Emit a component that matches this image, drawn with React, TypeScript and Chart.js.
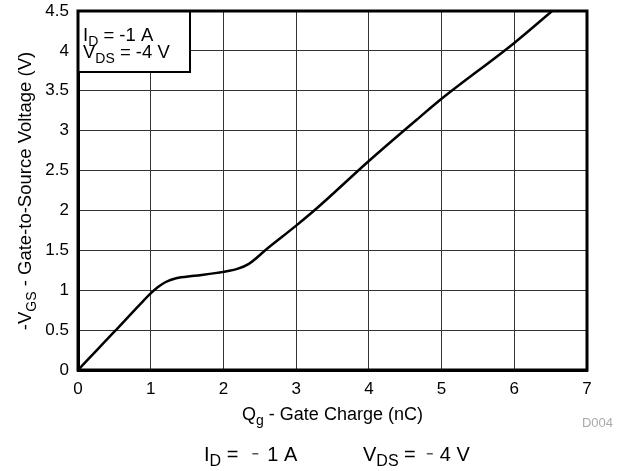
import React, { useEffect, useRef } from "react";
import { Chart, registerables } from "chart.js";
Chart.register(...registerables);

const qg = [0, 0.25, 0.5, 0.85, 1.0, 1.1, 1.2, 1.35, 1.6, 2.0, 2.2, 2.35, 2.6, 3.0, 3.3, 4.0, 4.7, 5.0, 6.0, 6.52];
const vgs = [0, 0.24, 0.48, 0.82, 0.96, 1.04, 1.1, 1.15, 1.18, 1.23, 1.27, 1.33, 1.52, 1.81, 2.04, 2.62, 3.17, 3.4, 4.1, 4.5];
const xTicks = [0, 1, 2, 3, 4, 5, 6, 7];
const yTicks = [0, 0.5, 1, 1.5, 2, 2.5, 3, 3.5, 4, 4.5];

const FONT = "'Liberation Sans', Arial, Helvetica, sans-serif";

type Part = { t: string; sub?: boolean };

function richWidth(ctx: CanvasRenderingContext2D, parts: Part[], size: number) {
  let w = 0;
  for (const p of parts) {
    ctx.font = `${p.sub ? Math.round(size * 0.78) : size}px ${FONT}`;
    w += ctx.measureText(p.t).width;
  }
  return w;
}

function drawRich(ctx: CanvasRenderingContext2D, parts: Part[], x: number, y: number, size: number, align: string, color = "#000") {
  const w = richWidth(ctx, parts, size);
  let cx = align === "center" ? x - w / 2 : align === "right" ? x - w : x;
  ctx.fillStyle = color;
  ctx.textBaseline = "alphabetic";
  ctx.textAlign = "left";
  for (const p of parts) {
    ctx.font = `${p.sub ? Math.round(size * 0.78) : size}px ${FONT}`;
    ctx.fillText(p.t, cx, p.sub ? y + size * 0.25 : y);
    cx += ctx.measureText(p.t).width;
  }
  return cx;
}

function drawCaption(ctx: CanvasRenderingContext2D, sym: string, sub: string, val: string, x: number, gap1: number, gap2: number, y: number) {
  let cx = drawRich(ctx, [{ t: sym }, { t: sub, sub: true }, { t: " =" }], x, y, 20, "left");
  cx += gap1;
  ctx.fillStyle = "#555";
  ctx.fillRect(cx, y - 8, 6, 1.5);
  cx += 6 + gap2;
  drawRich(ctx, [{ t: val }], cx, y, 20, "left");
}

const annot = {
  id: "annot",
  afterDraw(chart: any) {
    const ctx: CanvasRenderingContext2D = chart.ctx;
    const a = chart.chartArea;
    ctx.save();
    // legend box
    ctx.fillStyle = "#fff";
    ctx.fillRect(a.left, a.top, 112, 61);
    ctx.strokeStyle = "#000";
    ctx.lineWidth = 2;
    ctx.strokeRect(a.left, a.top, 112, 61);
    drawRich(ctx, [{ t: "I" }, { t: "D", sub: true }, { t: " = -1 A" }], a.left + 5, a.top + 30, 18.5, "left");
    drawRich(ctx, [{ t: "V" }, { t: "DS", sub: true }, { t: " = -4 V" }], a.left + 5, a.top + 47, 18.5, "left");
    // plot border
    ctx.lineWidth = 3;
    ctx.strokeRect(a.left, a.top, a.right - a.left, a.bottom - a.top);
    // x title
    const cxm = (a.left + a.right) / 2;
    drawRich(ctx, [{ t: "Q" }, { t: "g", sub: true }, { t: " - Gate Charge (nC)" }], cxm, 420, 18, "center");
    // y title
    ctx.save();
    ctx.translate(31, 191);
    ctx.rotate(-Math.PI / 2);
    drawRich(ctx, [{ t: "-V" }, { t: "GS", sub: true }, { t: " - Gate-to-Source Voltage (V)" }], 0, 0, 18.5, "center");
    ctx.restore();
    // D004
    drawRich(ctx, [{ t: "D004" }], 613, 427, 13, "right", "#aaaaaa");
    // caption
    drawCaption(ctx, "I", "D", "1 A", 204, 14, 9, 461);
    drawCaption(ctx, "V", "DS", "4 V", 363, 11, 7, 461);
    ctx.restore();
  },
};

export default function App() {
  const ref = useRef<HTMLCanvasElement>(null);
  useEffect(() => {
    const chart = new Chart(ref.current!, {
      type: "line",
      data: {
        datasets: [
          {
            data: qg.map((x, i) => ({ x, y: vgs[i] })),
            borderColor: "#000",
            borderWidth: 2.5,
            pointRadius: 0,
            cubicInterpolationMode: "monotone",
            fill: false,
          },
        ],
      },
      options: {
        animation: false,
        responsive: false,
        maintainAspectRatio: false,
        layout: { padding: { left: 0, top: 11, right: 37, bottom: 0 } },
        plugins: { legend: { display: false }, tooltip: { enabled: false } },
        scales: {
          x: {
            type: "linear",
            min: 0,
            max: 7,
            afterBuildTicks: (s: any) => { s.ticks = xTicks.map((v) => ({ value: v })); },
            afterFit: (s: any) => { s.height = 101; },
            grid: { color: "#333", lineWidth: 1, drawTicks: false },
            border: { color: "#000", width: 3 },
            ticks: { color: "#000", font: { family: FONT, size: 17 }, padding: 9, maxRotation: 0, callback: (v: any) => String(v) },
          },
          y: {
            type: "linear",
            min: 0,
            max: 4.5,
            afterBuildTicks: (s: any) => { s.ticks = yTicks.map((v) => ({ value: v })); },
            afterFit: (s: any) => { s.width = 78; },
            grid: { color: "#333", lineWidth: 1, drawTicks: true, tickLength: 9, tickColor: "rgba(0,0,0,0)" },
            border: { color: "#000", width: 3 },
            ticks: { color: "#000", font: { family: FONT, size: 17 }, padding: 0, callback: (v: any) => String(v) },
          },
        },
      },
      plugins: [annot],
    } as any);
    return () => chart.destroy();
  }, []);
  return (
    <div style={{ position: "fixed", left: 0, top: 0, width: 624, height: 471, background: "#fff" }}>
      <canvas ref={ref} width={624} height={471} style={{ width: 624, height: 471 }} />
    </div>
  );
}
